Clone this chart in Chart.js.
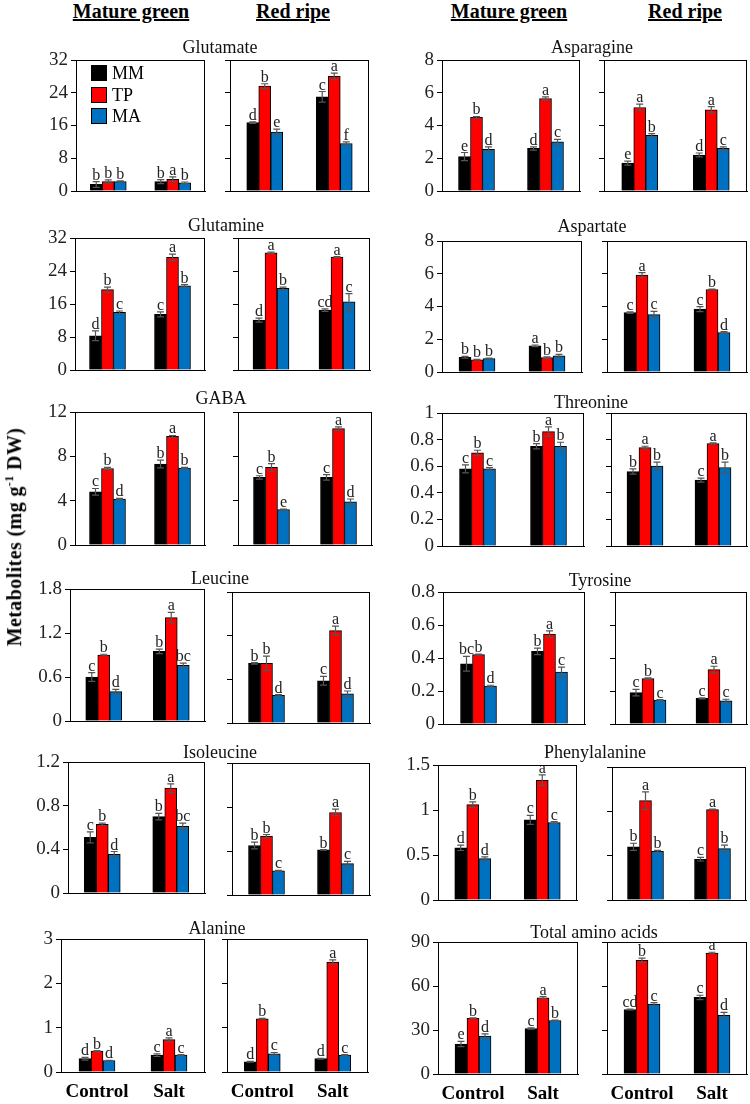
<!DOCTYPE html>
<html>
<head>
<meta charset="utf-8">
<script src="https://cdn.jsdelivr.net/npm/chart.js@4.4.1/dist/chart.umd.min.js"></script>
<style>
body { margin: 0; background: #fff; }
#wrap { position: relative; width: 750px; height: 1104px; overflow: hidden; font-family: "Liberation Serif", "Times New Roman", serif; color: #000; }
canvas { position: absolute; }
.title { position: absolute; font-size: 18px; line-height: 18px; transform: translateX(-50%); white-space: nowrap; color: #111; }
.head { position: absolute; top: 0; font-size: 20px; line-height: 22px; font-weight: bold; text-decoration: underline; transform: translateX(-50%); white-space: nowrap; }
.ylab { position: absolute; left: 14px; top: 537px; font-size: 20px; font-weight: bold; white-space: nowrap; transform: translate(-50%, -50%) rotate(-90deg); letter-spacing: 0.4px; }
.leg { position: absolute; left: 91px; font-size: 18px; line-height: 16px; }
.leg span { display: inline-block; width: 14px; height: 14px; border: 1px solid #000; vertical-align: -2px; margin-right: 5px; }
</style>
</head>
<body>
<div id="wrap"></div>
<script>
const groups = ['Control', 'Salt'];
const seriesNames = ['MM', 'TP', 'MA'];
const seriesColors = ['#000000', '#ff0000', '#0070c0'];

const metabolites = ['Glutamate', 'Asparagine', 'Glutamine', 'Aspartate', 'GABA', 'Threonine',
  'Leucine', 'Tyrosine', 'Isoleucine', 'Phenylalanine', 'Alanine', 'Total amino acids'];
const axisMax = [32, 8, 32, 8, 12, 1, 1.8, 0.8, 1.2, 1.5, 3, 90];
const axisStep = [8, 2, 8, 2, 4, 0.2, 0.6, 0.2, 0.4, 0.5, 1, 30];

// each: [MM[Control, Salt], TP[...], MA[...]]
const glutamateMG = [[1.6, 2.3], [2.3, 2.85], [2.3, 2.0]];
const glutamateMGErr = [[0.7, 0.5], [0.4, 0.6], [0.15, 0.2]];
const glutamateMGSig = [['b', 'b'], ['b', 'a'], ['b', 'b']];
const glutamateRR = [[16.7, 23.0], [25.6, 28.0], [14.4, 11.6]];
const glutamateRRErr = [[0.2, 1.3], [0.6, 0.8], [0.7, 0.4]];
const glutamateRRSig = [['d', 'c'], ['b', 'a'], ['e', 'f']];

const asparagineMG = [[2.1, 2.6], [4.5, 5.65], [2.55, 3.0]];
const asparagineMGErr = [[0.25, 0.1], [0.05, 0.1], [0.15, 0.15]];
const asparagineMGSig = [['e', 'd'], ['b', 'a'], ['d', 'c']];
const asparagineRR = [[1.7, 2.2], [5.1, 4.95], [3.4, 2.6]];
const asparagineRRErr = [[0.12, 0.12], [0.2, 0.2], [0.1, 0.1]];
const asparagineRRSig = [['e', 'd'], ['a', 'a'], ['b', 'c']];

const glutamineMG = [[8.3, 13.5], [19.5, 27.3], [14.0, 20.4]];
const glutamineMGErr = [[1.2, 0.6], [0.6, 0.8], [0.3, 0.3]];
const glutamineMGSig = [['d', 'c'], ['b', 'a'], ['c', 'b']];
const glutamineRR = [[12.1, 14.5], [28.4, 27.4], [19.8, 16.5]];
const glutamineRRErr = [[0.5, 0.3], [0.2, 0.1], [0.3, 2.0]];
const glutamineRRSig = [['d', 'cd'], ['a', 'a'], ['b', 'c']];

const aspartateMG = [[0.9, 1.6], [0.75, 0.88], [0.82, 0.98]];
const aspartateMGErr = [[0.05, 0.05], [0.03, 0.05], [0.03, 0.1]];
const aspartateMGSig = [['b', 'a'], ['b', 'b'], ['b', 'b']];
const aspartateRR = [[3.63, 3.84], [5.92, 5.04], [3.5, 2.41]];
const aspartateRRErr = [[0.05, 0.15], [0.15, 0.03], [0.2, 0.05]];
const aspartateRRSig = [['c', 'c'], ['a', 'b'], ['c', 'd']];

const gabaMG = [[4.8, 7.3], [6.9, 9.8], [4.15, 6.95]];
const gabaMGErr = [[0.3, 0.35], [0.1, 0.08], [0.05, 0.05]];
const gabaMGSig = [['c', 'b'], ['b', 'a'], ['d', 'b']];
const gabaRR = [[6.1, 6.1], [7.0, 10.5], [3.2, 3.9]];
const gabaRRErr = [[0.15, 0.25], [0.35, 0.15], [0.05, 0.25]];
const gabaRRSig = [['c', 'c'], ['b', 'a'], ['e', 'd']];

const threonineMG = [[0.58, 0.75], [0.70, 0.86], [0.58, 0.75]];
const threonineMGErr = [[0.03, 0.02], [0.02, 0.035], [0.01, 0.03]];
const threonineMGSig = [['c', 'b'], ['b', 'a'], ['c', 'b']];
const threonineRR = [[0.56, 0.495], [0.74, 0.77], [0.60, 0.59]];
const threonineRRErr = [[0.02, 0.015], [0.01, 0.005], [0.03, 0.04]];
const threonineRRSig = [['b', 'c'], ['a', 'a'], ['b', 'b']];

const leucineMG = [[0.6, 0.95], [0.9, 1.41], [0.4, 0.76]];
const leucineMGErr = [[0.06, 0.03], [0.01, 0.07], [0.03, 0.03]];
const leucineMGSig = [['c', 'b'], ['b', 'a'], ['d', 'bc']];
const leucineRR = [[0.82, 0.58], [0.82, 1.27], [0.38, 0.40]];
const leucineRRErr = [[0.01, 0.06], [0.1, 0.06], [0.01, 0.04]];
const leucineRRSig = [['b', 'c'], ['b', 'a'], ['d', 'd']];

const tyrosineMG = [[0.365, 0.44], [0.42, 0.545], [0.23, 0.315]];
const tyrosineMGErr = [[0.045, 0.02], [0.003, 0.02], [0.005, 0.03]];
const tyrosineMGSig = [['bc', 'b'], ['b', 'a'], ['d', 'c']];
const tyrosineRR = [[0.19, 0.155], [0.275, 0.33], [0.145, 0.14]];
const tyrosineRRErr = [[0.02, 0.003], [0.005, 0.02], [0.003, 0.01]];
const tyrosineRRSig = [['c', 'c'], ['b', 'a'], ['c', 'c']];

const isoleucineMG = [[0.51, 0.70], [0.63, 0.96], [0.355, 0.61]];
const isoleucineMGErr = [[0.05, 0.03], [0.01, 0.04], [0.025, 0.03]];
const isoleucineMGSig = [['c', 'b'], ['b', 'a'], ['d', 'bc']];
const isoleucineRR = [[0.45, 0.41], [0.535, 0.75], [0.22, 0.285]];
const isoleucineRRErr = [[0.03, 0.003], [0.015, 0.03], [0.005, 0.02]];
const isoleucineRRSig = [['b', 'b'], ['b', 'a'], ['c', 'c']];

const phenylalanineMG = [[0.58, 0.89], [1.06, 1.33], [0.46, 0.86]];
const phenylalanineMGErr = [[0.03, 0.05], [0.03, 0.06], [0.02, 0.01]];
const phenylalanineMGSig = [['d', 'c'], ['b', 'a'], ['d', 'c']];
const phenylalanineRR = [[0.6, 0.46], [1.12, 1.02], [0.55, 0.58]];
const phenylalanineRRErr = [[0.04, 0.02], [0.1, 0.005], [0.01, 0.04]];
const phenylalanineRRSig = [['b', 'c'], ['a', 'a'], ['b', 'b']];

const alanineMG = [[0.3, 0.38], [0.47, 0.73], [0.26, 0.38]];
const alanineMGErr = [[0.03, 0.03], [0.01, 0.04], [0.005, 0.01]];
const alanineMGSig = [['d', 'c'], ['b', 'a'], ['d', 'c']];
const alanineRR = [[0.23, 0.3], [1.2, 2.48], [0.41, 0.38]];
const alanineRRErr = [[0.01, 0.01], [0.01, 0.05], [0.03, 0.01]];
const alanineRRSig = [['d', 'd'], ['b', 'a'], ['c', 'c']];

const totalMG = [[20.4, 31.0], [38.0, 52.0], [25.8, 36.5]];
const totalMGErr = [[1.8, 0.5], [0.3, 0.7], [1.5, 0.3]];
const totalMGSig = [['e', 'c'], ['b', 'a'], ['d', 'b']];
const totalRR = [[44.0, 52.2], [77.5, 82.5], [47.7, 40.0]];
const totalRRErr = [[0.3, 1.5], [1.5, 0.5], [1.0, 2.0]];
const totalRRSig = [['cd', 'c'], ['b', 'a'], ['c', 'd']];

// panel boxes on the page [left, top, right, bottom]
const panels = [
  [0, 'MG', glutamateMG, glutamateMGErr, glutamateMGSig, [76, 60, 205, 191]],
  [0, 'RR', glutamateRR, glutamateRRErr, glutamateRRSig, [230, 60, 369, 191]],
  [1, 'MG', asparagineMG, asparagineMGErr, asparagineMGSig, [442, 60, 580, 191]],
  [1, 'RR', asparagineRR, asparagineRRErr, asparagineRRSig, [604, 60, 747, 191]],
  [2, 'MG', glutamineMG, glutamineMGErr, glutamineMGSig, [75, 238, 205, 370]],
  [2, 'RR', glutamineRR, glutamineRRErr, glutamineRRSig, [238, 238, 370, 370]],
  [3, 'MG', aspartateMG, aspartateMGErr, aspartateMGSig, [442, 241, 582, 372]],
  [3, 'RR', aspartateRR, aspartateRRErr, aspartateRRSig, [607, 241, 747, 372]],
  [4, 'MG', gabaMG, gabaMGErr, gabaMGSig, [75, 412, 205, 545]],
  [4, 'RR', gabaRR, gabaRRErr, gabaRRSig, [238, 412, 372, 545]],
  [5, 'MG', threonineMG, threonineMGErr, threonineMGSig, [442, 413, 584, 546]],
  [5, 'RR', threonineRR, threonineRRErr, threonineRRSig, [611, 413, 747, 546]],
  [6, 'MG', leucineMG, leucineMGErr, leucineMGSig, [70, 589, 205, 721]],
  [6, 'RR', leucineRR, leucineRRErr, leucineRRSig, [232, 592, 370, 723]],
  [7, 'MG', tyrosineMG, tyrosineMGErr, tyrosineMGSig, [443, 592, 585, 724]],
  [7, 'RR', tyrosineRR, tyrosineRRErr, tyrosineRRSig, [615, 592, 747, 724]],
  [8, 'MG', isoleucineMG, isoleucineMGErr, isoleucineMGSig, [68, 762, 205, 893]],
  [8, 'RR', isoleucineRR, isoleucineRRErr, isoleucineRRSig, [232, 763, 370, 895]],
  [9, 'MG', phenylalanineMG, phenylalanineMGErr, phenylalanineMGSig, [438, 765, 577, 900]],
  [9, 'RR', phenylalanineRR, phenylalanineRRErr, phenylalanineRRSig, [612, 767, 746, 900]],
  [10, 'MG', alanineMG, alanineMGErr, alanineMGSig, [61, 939, 205, 1072]],
  [10, 'RR', alanineRR, alanineRRErr, alanineRRSig, [227, 939, 368, 1072]],
  [11, 'MG', totalMG, totalMGErr, totalMGSig, [438, 942, 578, 1074]],
  [11, 'RR', totalRR, totalRRErr, totalRRSig, [607, 942, 747, 1074]]
];

// title centres [x, y]
const titlePos = [[220, 47], [592, 47], [226, 225], [592, 226], [221, 398], [591, 402],
  [220, 578], [600, 580], [220, 752], [595, 752], [217, 928], [594, 932]];

const wrap = document.getElementById('wrap');

const boxPlugin = {
  id: 'box',
  afterDraw(chart) {
    const { ctx, chartArea: a } = chart;
    ctx.save();
    ctx.strokeStyle = '#000';
    ctx.lineWidth = 1;
    ctx.strokeRect(Math.round(a.left) + 0.5, Math.round(a.top) + 0.5, Math.round(a.right - a.left) - 1, Math.round(a.bottom - a.top));
    ctx.restore();
  }
};

const errorPlugin = {
  id: 'errors',
  afterDatasetsDraw(chart) {
    const { ctx } = chart;
    const y = chart.scales.y;
    chart.data.datasets.forEach((ds, i) => {
      chart.getDatasetMeta(i).data.forEach((bar, j) => {
        const v = ds.data[j], e = ds.errors[j];
        const top = y.getPixelForValue(v + e);
        const bot = y.getPixelForValue(v - e);
        ctx.save();
        ctx.strokeStyle = '#555';
        ctx.lineWidth = 1.2;
        ctx.beginPath();
        ctx.moveTo(bar.x, top); ctx.lineTo(bar.x, bot);
        ctx.moveTo(bar.x - 3.5, top); ctx.lineTo(bar.x + 3.5, top);
        ctx.moveTo(bar.x - 3.5, bot); ctx.lineTo(bar.x + 3.5, bot);
        ctx.stroke();
        ctx.fillStyle = '#222';
        ctx.font = '16px "Liberation Serif"';
        ctx.textAlign = 'center';
        ctx.textBaseline = 'alphabetic';
        ctx.fillText(ds.letters[j], bar.x, top - 2);
        ctx.restore();
      });
    });
  }
};

panels.forEach(([m, stage, values, errors, letters, box]) => {
  const [l, t, r, b] = box;
  const isMG = stage === 'MG';
  const bottomRow = m >= 10;
  const canvasLeft = isMG ? (l < 300 ? 24 : 390) : l - 8;
  const axisW = l - canvasLeft;
  const padTop = 16, padRight = 2;
  const xH = bottomRow ? 38 : 16;
  const w = r - canvasLeft + padRight;
  const h = b - t + padTop + xH;

  const canvas = document.createElement('canvas');
  canvas.width = w; canvas.height = h;
  canvas.style.width = w + 'px'; canvas.style.height = h + 'px';
  canvas.style.left = canvasLeft + 'px';
  canvas.style.top = (t - padTop) + 'px';
  wrap.appendChild(canvas);

  new Chart(canvas, {
    type: 'bar',
    data: {
      labels: groups,
      datasets: seriesNames.map((name, i) => ({
        label: name,
        data: values[i],
        errors: errors[i],
        letters: letters[i],
        backgroundColor: seriesColors[i],
        borderColor: '#000',
        borderWidth: 1,
        barThickness: 12
      }))
    },
    options: {
      responsive: false,
      animation: false,
      devicePixelRatio: 1,
      layout: { padding: { top: padTop, right: padRight, left: 0, bottom: 0 } },
      plugins: { legend: { display: false }, tooltip: { enabled: false } },
      scales: {
        x: {
          grid: { display: false, drawTicks: false },
          border: { color: '#000' },
          ticks: { display: bottomRow, padding: 9, color: '#000', font: { family: 'Liberation Serif', size: 19, weight: 'bold' } },
          afterFit: s => { s.height = xH; }
        },
        y: {
          min: 0,
          max: axisMax[m],
          ticks: {
            stepSize: axisStep[m],
            display: isMG,
            padding: 3,
            color: '#222',
            font: { family: 'Liberation Serif', size: 19 },
            callback: v => String(+v.toFixed(2))
          },
          grid: { drawOnChartArea: false, color: '#000', tickLength: 5 },
          border: { color: '#000' },
          afterFit: s => { s.width = axisW; }
        }
      }
    },
    plugins: [boxPlugin, errorPlugin]
  });
});

// titles
metabolites.forEach((name, i) => {
  const d = document.createElement('div');
  d.className = 'title';
  d.textContent = name;
  d.style.left = titlePos[i][0] + 'px';
  d.style.top = (titlePos[i][1] - 9) + 'px';
  wrap.appendChild(d);
});

// stage headers
[['Mature green', 131], ['Red ripe', 293], ['Mature green', 509], ['Red ripe', 685]].forEach(([txt, x]) => {
  const d = document.createElement('div');
  d.className = 'head';
  d.textContent = txt;
  d.style.left = x + 'px';
  wrap.appendChild(d);
});

// y axis title
const yl = document.createElement('div');
yl.className = 'ylab';
yl.innerHTML = 'Metabolites (mg g<sup style="font-size:12px">-1</sup> DW)';
wrap.appendChild(yl);

// legend inside first panel
seriesNames.forEach((name, i) => {
  const d = document.createElement('div');
  d.className = 'leg';
  d.style.top = (65 + i * 21.5) + 'px';
  d.innerHTML = '<span style="background:' + seriesColors[i] + '"></span>' + name;
  wrap.appendChild(d);
});
</script>
</body>
</html>
